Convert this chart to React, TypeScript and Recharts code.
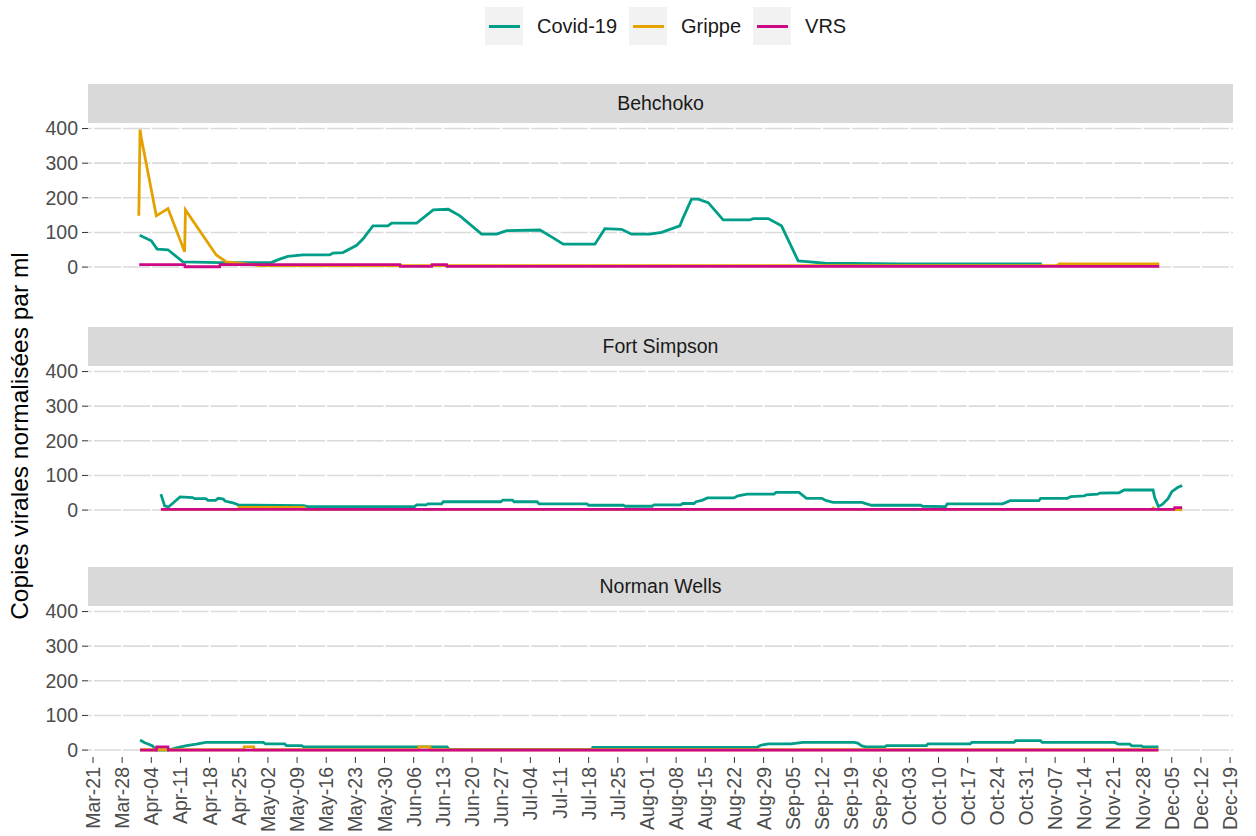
import React from 'react';
import { LineChart, Line, XAxis, YAxis, CartesianGrid } from 'recharts';

// x values are days since Mar-21 (weekly ticks every 7 days)
const tickLabels = [
  'Mar-21', 'Mar-28', 'Apr-04', 'Apr-11', 'Apr-18', 'Apr-25', 'May-02', 'May-09',
  'May-16', 'May-23', 'May-30', 'Jun-06', 'Jun-13', 'Jun-20', 'Jun-27', 'Jul-04',
  'Jul-11', 'Jul-18', 'Jul-25', 'Aug-01', 'Aug-08', 'Aug-15', 'Aug-22', 'Aug-29',
  'Sep-05', 'Sep-12', 'Sep-19', 'Sep-26', 'Oct-03', 'Oct-10', 'Oct-17', 'Oct-24',
  'Oct-31', 'Nov-07', 'Nov-14', 'Nov-21', 'Nov-28', 'Dec-05', 'Dec-12', 'Dec-19',
];
const xTicks = tickLabels.map((_, i) => i * 7);
const yTicks = [0, 100, 200, 300, 400];

const seriesNames = ['Covid-19', 'Grippe', 'VRS'];
const seriesColors = ['#009E89', '#E3A200', '#CC0A85'];

const behchokoCovid: [number, number][] = [
  [11.2, 92], [14.0, 76], [15.4, 52], [18.0, 50], [21.6, 15], [30.4, 13], [42.8, 13],
  [44.8, 23], [46.8, 31], [50.4, 35], [56.8, 35], [57.6, 40], [60.0, 42], [63.3, 63],
  [64.8, 81], [67.2, 119], [70.8, 119], [71.7, 127], [77.7, 127], [81.7, 165], [85.3, 167],
  [88.1, 148], [93.3, 95], [96.9, 95], [99.3, 105], [107.3, 107], [109.7, 90], [112.9, 66],
  [120.5, 66], [122.9, 111], [126.9, 109], [129.3, 95], [133.7, 95], [136.5, 100],
  [140.9, 119], [141.7, 143], [143.7, 196], [145.3, 196], [147.7, 186], [151.3, 136],
  [157.7, 136], [158.5, 140], [162.1, 140], [165.3, 119], [169.3, 18], [172.1, 15],
  [175.7, 11], [193.7, 9], [227.8, 9],
];
const behchokoGrippe: [number, number][] = [
  [11.0, 148], [11.3, 397], [11.6, 373], [15.2, 148], [18.0, 169], [22.0, 44], [22.2, 165],
  [29.6, 35], [32.0, 15], [37.6, 8], [40, 4], [231.5, 4], [232, 9], [256, 9],
];
const behchokoVrs: [number, number][] = [
  [11.1, 7], [22.0, 7], [22.1, 1], [30.4, 1], [30.5, 7], [73.7, 7], [73.8, 2], [81.3, 2],
  [81.4, 7], [84.9, 7], [85.0, 2], [256, 2],
];

const fortSimpsonCovid: [number, number][] = [
  [16.3, 46], [17.2, 12], [18.1, 9], [19.3, 21], [20.9, 38], [23.9, 36], [24.4, 33],
  [27.1, 33], [27.6, 28], [29.4, 28], [30.1, 34], [31.3, 32], [31.7, 26], [33.6, 21],
  [34.9, 15], [50.6, 13], [51.5, 10], [77.2, 10], [77.7, 15], [80.0, 15], [80.4, 18],
  [83.7, 18], [84.1, 24], [97.9, 24], [98.4, 29], [100.7, 29], [101.1, 24], [106.6, 24],
  [107.1, 18], [118.6, 18], [119.0, 14], [127.3, 14], [127.8, 11], [134.2, 11], [134.7, 15],
  [141.1, 15], [141.6, 19], [144.3, 19], [144.8, 24], [146.2, 28], [147.5, 35], [153.9, 35],
  [154.8, 41], [157.1, 46], [163.5, 46], [164.0, 51], [169.5, 51], [171.3, 34], [175.0, 34],
  [175.9, 28], [177.7, 22], [184.6, 22], [186.9, 14], [198.7, 14], [199.2, 11], [204.7, 10],
  [205.1, 18], [218.4, 18], [220.2, 27], [227.1, 27], [227.5, 34], [233.9, 34], [234.8, 39],
  [238.0, 41], [238.5, 44], [241.2, 46], [241.7, 49], [246.3, 50], [247.6, 58], [254.5, 58],
  [254.9, 36], [255.8, 10], [256.8, 17], [258.1, 33], [259.0, 53], [260.4, 65], [261.5, 71],
];
const fortSimpsonGrippe: [number, number][] = [
  [16.3, 2], [34.9, 2], [35.0, 8], [50.6, 8], [50.8, 2], [254.2, 2], [254.5, 6], [255.0, 2],
  [259.6, 2], [261.5, 1],
];
const fortSimpsonVrs: [number, number][] = [
  [16.3, 2], [259.5, 2], [259.7, 7], [261.5, 7],
];

const normanWellsCovid: [number, number][] = [
  [11.3, 29], [12.4, 21], [13.4, 17], [14.3, 12], [15.2, 0], [18.0, 0], [20.5, 8], [22.5, 13],
  [24.8, 17], [27.1, 22], [40.9, 22], [41.4, 18], [46.0, 18], [46.4, 13], [50.1, 13],
  [50.6, 9], [85.0, 9], [85.5, 2], [119.8, 2], [120.0, 8], [159.4, 8], [160.3, 14],
  [162.2, 18], [167.6, 18], [170.4, 22], [182.7, 22], [183.6, 20], [184.6, 12], [185.5, 9],
  [190.1, 9], [190.5, 13], [200.1, 13], [200.5, 18], [210.6, 18], [211.0, 22], [221.1, 22],
  [221.5, 27], [227.5, 27], [227.9, 22], [245.3, 22], [246.2, 17], [248.9, 17], [249.4, 12],
  [251.7, 12], [252.2, 9], [255.8, 9],
];
const normanWellsGrippe: [number, number][] = [
  [11.3, 1], [36.2, 1], [36.3, 9], [38.6, 9], [38.7, 1], [78.1, 1], [78.2, 9], [80.9, 9],
  [81.0, 1], [255.8, 1],
];
const normanWellsVrs: [number, number][] = [
  [11.3, 0], [15.2, 0], [15.3, 9], [18.0, 9], [18.1, 0], [255.8, 0],
];

const sites = [
  { name: 'Behchoko', series: [behchokoCovid, behchokoGrippe, behchokoVrs], top: 123 },
  { name: 'Fort Simpson', series: [fortSimpsonCovid, fortSimpsonGrippe, fortSimpsonVrs], top: 366 },
  { name: 'Norman Wells', series: [normanWellsCovid, normanWellsGrippe, normanWellsVrs], top: 606 },
];

const FONT = '"Liberation Sans", Arial, sans-serif';
const PANEL_H = 151;
const STRIP_H = 39;
const PAD = 12;
const AXIS_H = 836 - 606 - PANEL_H;
const TEXT_SIZE = 19.5;

const toRows = (pts: [number, number][]) => pts.map(([d, v]) => ({ d, v }));

const DateTick = (props: any) => {
  const { x, y, payload } = props;
  return (
    <text
      transform={`translate(${x},${y + 2}) rotate(-90)`}
      dy="0.36em"
      textAnchor="end"
      fill="#4D4D4D"
      fontSize={TEXT_SIZE}
      fontFamily={FONT}
    >
      {tickLabels[Math.round(payload.value / 7)]}
    </text>
  );
};

function Panel({ site, last }: { site: (typeof sites)[number]; last: boolean }) {
  const bottom = last ? AXIS_H : PAD;
  return (
    <div style={{ position: 'absolute', left: 0, top: site.top - PAD }}>
      <LineChart
        width={1256}
        height={PAD + PANEL_H + bottom}
        margin={{ top: PAD, right: 23, bottom: last ? 0 : bottom, left: 0 }}
      >
        <CartesianGrid
          vertical={false}
          horizontalValues={yTicks}
          stroke="#DADADA"
          strokeWidth={1.6}
        />
        <CartesianGrid
          horizontal={false}
          verticalValues={xTicks}
          stroke="#FFFFFF"
          strokeWidth={2}
        />
        <XAxis
          dataKey="d"
          type="number"
          domain={[-1.2, 273.7]}
          allowDataOverflow
          ticks={xTicks}
          interval={0}
          hide={!last}
          height={last ? AXIS_H : 0}
          axisLine={false}
          tickLine={{ stroke: '#333333' }}
          tickSize={6}
          tick={<DateTick />}
        />
        <YAxis
          type="number"
          domain={[-20, 416]}
          allowDataOverflow
          ticks={yTicks}
          interval={0}
          width={88}
          axisLine={false}
          tickLine={{ stroke: '#333333' }}
          tickSize={6}
          tickMargin={4}
          tick={{ fill: '#4D4D4D', fontSize: TEXT_SIZE, fontFamily: FONT }}
        />
        {site.series.map((pts, i) => (
          <Line
            key={seriesNames[i]}
            data={toRows(pts)}
            dataKey="v"
            type="linear"
            stroke={seriesColors[i]}
            strokeWidth={2.8}
            dot={false}
            isAnimationActive={false}
          />
        ))}
      </LineChart>
    </div>
  );
}

export default function App() {
  return (
    <div
      style={{
        position: 'absolute',
        left: 0,
        top: 0,
        width: 1256,
        height: 836,
        background: '#FFFFFF',
        fontFamily: FONT,
        overflow: 'hidden',
      }}
    >
      <div style={{ position: 'absolute', left: 485, top: 7, display: 'flex', alignItems: 'center' }}>
        {seriesNames.map((name, i) => (
          <div key={name} style={{ display: 'flex', alignItems: 'center', marginRight: 12 }}>
            <div
              style={{
                width: 38,
                height: 38,
                background: '#F2F2F2',
                display: 'flex',
                alignItems: 'center',
                justifyContent: 'center',
              }}
            >
              <div style={{ width: 31, height: 3, background: seriesColors[i] }} />
            </div>
            <span style={{ marginLeft: 14, fontSize: 20, color: '#1A1A1A' }}>{name}</span>
          </div>
        ))}
      </div>

      {sites.map((site) => (
        <div
          key={site.name}
          style={{
            position: 'absolute',
            left: 88,
            width: 1145,
            top: site.top - STRIP_H,
            height: STRIP_H,
            background: '#D9D9D9',
            color: '#1A1A1A',
            fontSize: TEXT_SIZE,
            display: 'flex',
            alignItems: 'center',
            justifyContent: 'center',
          }}
        >
          {site.name}
        </div>
      ))}

      {sites.map((site, i) => (
        <Panel key={site.name} site={site} last={i === sites.length - 1} />
      ))}

      <div
        style={{
          position: 'absolute',
          left: 20,
          top: 436,
          transform: 'translate(-50%, -50%) rotate(-90deg)',
          whiteSpace: 'nowrap',
          fontSize: 24.5,
          color: '#000000',
        }}
      >
        Copies virales normalisées par ml
      </div>
    </div>
  );
}
